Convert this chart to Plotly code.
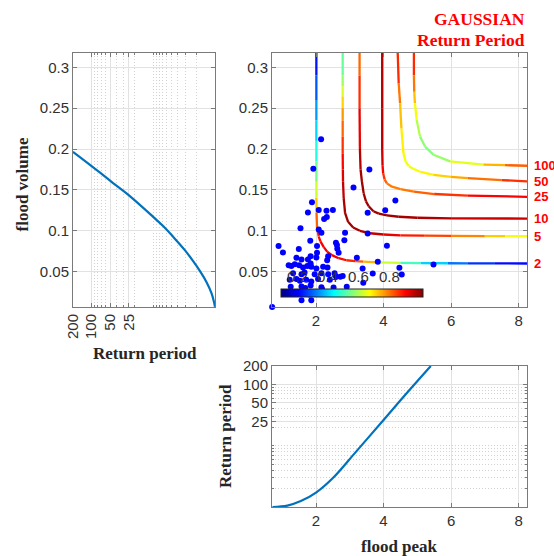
import plotly.graph_objects as go
from plotly.colors import sample_colorscale
import math

# ---------------- data ----------------
# left panel: marginal return period of flood volume
vol_T = [200, 73.7, 44.9, 25.9, 10.06, 6.93, 4.77, 3.08, 2.26, 1.76, 1.37, 1.136, 1.04, 1.0]
vol_v = [0.1967, 0.1715, 0.1584, 0.1445, 0.1171, 0.1058, 0.0927, 0.0764, 0.0629, 0.0510, 0.0372, 0.0234, 0.0131, 0.0070]

# bottom panel: marginal return period of flood peak
peak_x = [0.71, 1.15, 1.55, 2.0, 2.53, 3.13, 4.02, 4.71, 5.40]
peak_T = [1.0, 1.055, 1.25, 1.72, 3.09, 7.36, 27.1, 74.5, 200.0]

# joint return period isolines (x = peak, y = volume, c = colour value)
levels = [2, 5, 10, 25, 50, 100]

c2_x = [2.01, 2.01, 2.01, 2.01, 2.01, 2.01, 2.01, 2.01, 2.015, 2.03, 2.08, 2.13, 2.23, 2.33, 2.47, 2.67, 2.9, 3.16, 3.4, 3.8, 4.5, 5.1, 5.9, 6.5, 7.3, 8.25]
c2_y = [0.3175, 0.29, 0.26, 0.235, 0.21, 0.185, 0.16, 0.14, 0.122, 0.104, 0.093, 0.087, 0.080, 0.0745, 0.0703, 0.0665, 0.064, 0.0629, 0.0622, 0.0615, 0.0608, 0.0605, 0.0603, 0.0602, 0.0601, 0.060]
c2_c = [0.206, 0.25, 0.326, 0.373, 0.437, 0.511, 0.585, 0.678, 0.78, 0.854, 0.89, 0.909, 0.918, 0.918, 0.918, 0.909, 0.89, 0.854, 0.789, 0.696, 0.558, 0.447, 0.354, 0.28, 0.234, 0.206]

c5_x = [2.79, 2.79, 2.79, 2.79, 2.79, 2.79, 2.79, 2.79, 2.795, 2.80, 2.82, 2.86, 2.95, 3.1, 3.3, 3.6, 4.0, 4.5, 5.2, 6.0, 7.0, 7.6, 8.25]
c5_y = [0.3175, 0.29, 0.277, 0.2645, 0.25, 0.235, 0.215, 0.195, 0.175, 0.16, 0.14, 0.122, 0.111, 0.104, 0.100, 0.097, 0.0955, 0.0945, 0.094, 0.0938, 0.0936, 0.0935, 0.0935]
c5_c = [0.511, 0.558, 0.604, 0.678, 0.743, 0.789, 0.835, 0.881, 0.918, 0.946, 0.974, 0.992, 0.992, 0.992, 0.983, 0.974, 0.946, 0.90, 0.863, 0.826, 0.743, 0.696, 0.632]

c10_x = [3.29, 3.29, 3.29, 3.30, 3.32, 3.36, 3.41, 3.48, 3.56, 3.7, 3.86, 4.1, 4.45, 5.0, 6.0, 8.25]
c10_y = [0.3175, 0.29, 0.25, 0.2, 0.175, 0.16, 0.146, 0.136, 0.13, 0.124, 0.121, 0.119, 0.1172, 0.116, 0.1153, 0.115]
c10_c = [0.789, 0.835, 0.89, 0.955, 0.983, 0.992, 0.992, 0.992, 0.992, 0.992, 0.992, 0.992, 0.992, 0.983, 0.974, 0.928]

c25_x = [3.96, 3.96, 3.96, 3.97, 3.99, 4.03, 4.1, 4.25, 4.5, 4.9, 5.5, 6.5, 8.25]
c25_y = [0.3175, 0.25, 0.2, 0.18, 0.17, 0.163, 0.158, 0.154, 0.151, 0.148, 0.145, 0.143, 0.1416]
c25_c = [0.974, 0.974, 0.964, 0.928, 0.881, 0.835, 0.80, 0.789, 0.789, 0.80, 0.835, 0.881, 0.928]

c50_x = [4.42, 4.45, 4.49, 4.53, 4.59, 4.65, 4.75, 4.88, 5.1, 5.48, 6.0, 6.5, 7.5, 8.25]
c50_y = [0.3175, 0.28, 0.256, 0.225, 0.195, 0.185, 0.179, 0.176, 0.172, 0.1685, 0.166, 0.1645, 0.162, 0.1605]
c50_c = [0.90, 0.835, 0.76, 0.70, 0.669, 0.66, 0.66, 0.66, 0.669, 0.696, 0.733, 0.77, 0.835, 0.89]

c100_x = [4.90, 4.90, 4.91, 4.93, 4.98, 5.08, 5.23, 5.48, 5.97, 6.96, 7.6, 8.25]
c100_y = [0.3175, 0.29, 0.27, 0.256, 0.236, 0.2155, 0.203, 0.193, 0.185, 0.181, 0.1803, 0.1796]
c100_c = [0.90, 0.835, 0.76, 0.70, 0.63, 0.58, 0.56, 0.56, 0.60, 0.70, 0.78, 0.854]

# observed (peak, volume) pairs
obs_x = [2.15, 1.92, 3.58, 3.11, 4.35, 1.88, 4.05, 3.53, 1.76, 2.08, 2.31, 2.24, 2.50, 2.32,
         1.54, 2.08, 2.16, 2.86, 3.53, 2.84, 1.83, 4.10, 0.89, 2.03, 1.02, 1.49, 2.03, 2.36,
         1.84, 2.62, 2.59, 2.67, 2.63, 1.42, 1.57, 2.01, 2.33, 3.21, 3.83, 5.48, 4.47, 4.54,
         3.68, 3.40, 2.91, 2.79, 2.59, 2.72, 2.52, 2.18, 3.38, 0.70, 1.76, 1.84,
         1.19, 1.27, 1.37, 1.50, 1.615, 1.74, 1.86, 2.01, 2.21, 2.34,
         1.32, 1.57, 1.66, 1.96, 2.16, 2.36, 2.55,
         1.22, 1.42, 1.52, 1.71, 1.86, 2.06, 2.41,
         1.25, 1.57, 1.68, 1.84, 2.16,
         1.50, 1.80,
         1.57, 1.86]
obs_y = [0.212, 0.176, 0.175, 0.153, 0.137, 0.135, 0.125, 0.122, 0.1225, 0.1255, 0.1245, 0.1143, 0.1255, 0.117,
         0.103, 0.1017, 0.0976, 0.0976, 0.0968, 0.0886, 0.0878, 0.0817, 0.0813, 0.0813, 0.0735, 0.0776, 0.0731, 0.069,
         0.069, 0.0825, 0.0854, 0.0731, 0.078, 0.067, 0.065, 0.0674, 0.064, 0.067, 0.0621, 0.0588, 0.0547, 0.0466,
         0.0478, 0.0364, 0.0315, 0.0446, 0.044, 0.0437, 0.0307, 0.0286, 0.054, 0.0068, 0.065, 0.060,
         0.058, 0.057, 0.059, 0.058, 0.055, 0.057, 0.056, 0.054, 0.056, 0.055,
         0.048, 0.047, 0.049, 0.047, 0.048, 0.047, 0.048,
         0.040, 0.041, 0.039, 0.040, 0.038, 0.041, 0.040,
         0.0315, 0.032, 0.030, 0.033, 0.031,
         0.024, 0.022,
         0.0152, 0.0152]

cbar_ticks = [0.2, 0.4, 0.6, 0.8]
cmin, cmax = 0.095, 1.02
T_ticks = [25, 50, 100, 200]
T_minor = [2, 3, 4, 5, 6, 7, 8, 9, 10, 20, 30, 40, 60, 70, 80, 90]
v_ticks = [0.05, 0.1, 0.15, 0.2, 0.25, 0.3]
p_ticks = [2, 4, 6, 8]
x_range = [0.696, 8.25]
v_range = [0.0068, 0.3175]

# ---------------- styling ----------------
W, H = 554, 556
jet = [[0, 'rgb(0,0,128)'], [0.125, 'rgb(0,0,255)'], [0.375, 'rgb(0,255,255)'],
       [0.625, 'rgb(255,255,0)'], [0.875, 'rgb(255,0,0)'], [1, 'rgb(128,0,0)']]
SANS = 'Liberation Sans, Arial, sans-serif'
SERIF = 'Liberation Serif, Times New Roman, serif'
TICKC = '#303030'
FRAME = '#7a7a7a'
GRID = '#e2e2e2'
MINOR = '#d2d2d2'
BLUE = '#0072BD'


def px_x(p):
    return p / W


def px_y(p):
    return 1 - p / H


fig = go.Figure()

# left panel curve
fig.add_trace(go.Scatter(x=vol_T, y=vol_v, mode='lines', line=dict(color=BLUE, width=2.2, shape='spline'),
                         xaxis='x', yaxis='y', hoverinfo='skip', showlegend=False))
# bottom panel curve
fig.add_trace(go.Scatter(x=peak_x, y=peak_T, mode='lines', line=dict(color=BLUE, width=2.2, shape='spline'),
                         xaxis='x3', yaxis='y3', hoverinfo='skip', showlegend=False))

# isolines with varying colour (segment by segment)
curves = [(c2_x, c2_y, c2_c), (c5_x, c5_y, c5_c), (c10_x, c10_y, c10_c),
          (c25_x, c25_y, c25_c), (c50_x, c50_y, c50_c), (c100_x, c100_y, c100_c)]
for cx, cy, cc in curves:
    for i in range(len(cx) - 1):
        val = 0.5 * (cc[i] + cc[i + 1])
        col = sample_colorscale(jet, [(val - cmin) / (cmax - cmin)])[0]
        fig.add_trace(go.Scatter(x=[cx[i], cx[i + 1]], y=[cy[i], cy[i + 1]], mode='lines',
                                 line=dict(color=col, width=2.3), xaxis='x2', yaxis='y2',
                                 hoverinfo='skip', showlegend=False))

# observations
fig.add_trace(go.Scatter(x=obs_x, y=obs_y, mode='markers',
                         marker=dict(color='#0000FF', size=6, line=dict(width=0)),
                         xaxis='x2', yaxis='y2', hoverinfo='skip', showlegend=False, cliponaxis=False))

# colourbar
cb_left, cb_right = 281, 423
fig.add_trace(go.Scatter(x=[None], y=[None], mode='markers', xaxis='x2', yaxis='y2', showlegend=False,
                         marker=dict(color=[cmin], colorscale=jet, cmin=cmin, cmax=cmax, showscale=True,
                                     colorbar=dict(orientation='h', lenmode='pixels', len=cb_right - cb_left,
                                                   thicknessmode='pixels', thickness=8,
                                                   x=px_x((cb_left + cb_right) / 2), xanchor='center',
                                                   y=px_y(298), yanchor='bottom', xpad=0, ypad=0,
                                                   outlinewidth=1, outlinecolor='#222222',
                                                   showticklabels=False, ticks=''))))

annotations = []
for t in cbar_ticks:
    xp = cb_left + (t - cmin) / (cmax - cmin) * (cb_right - cb_left)
    annotations.append(dict(text=str(t), xref='paper', yref='paper', x=px_x(xp), y=px_y(276),
                            xanchor='center', yanchor='middle', showarrow=False,
                            font=dict(family=SANS, size=15, color=TICKC)))

# isoline labels
for lev, (cx, cy, cc) in zip(levels, curves):
    annotations.append(dict(text=str(lev), xref='x2', yref='y2', x=cx[-1], y=cy[-1], xanchor='left',
                            yanchor='middle', xshift=5, showarrow=False,
                            font=dict(family=SANS, size=13, color='#ff0000', weight='bold')))

# titles
annotations.append(dict(text='GAUSSIAN', xref='paper', yref='paper', x=px_x(527), y=px_y(18.5),
                        xanchor='right', yanchor='middle', showarrow=False,
                        font=dict(family=SERIF, size=17.5, color='#ff0000', weight='bold')))
annotations.append(dict(text='Return Period', xref='paper', yref='paper', x=px_x(527), y=px_y(39.5),
                        xanchor='right', yanchor='middle', showarrow=False,
                        font=dict(family=SERIF, size=17.5, color='#ff0000', weight='bold')))

ttl = dict(family=SERIF, size=17, color='#262626', weight='bold')
annotations.append(dict(text='flood volume', xref='paper', yref='paper', x=px_x(22.5), y=px_y(185),
                        textangle=-90, xanchor='center', yanchor='middle', showarrow=False, font=ttl))
annotations.append(dict(text='Return period', xref='paper', yref='paper', x=px_x(145), y=px_y(353),
                        xanchor='center', yanchor='middle', showarrow=False, font=ttl))
annotations.append(dict(text='Return period', xref='paper', yref='paper', x=px_x(225), y=px_y(436),
                        textangle=-90, xanchor='center', yanchor='middle', showarrow=False, font=ttl))
annotations.append(dict(text='flood peak', xref='paper', yref='paper', x=px_x(399), y=px_y(546.5),
                        xanchor='center', yanchor='middle', showarrow=False, font=ttl))

tickfont = dict(family=SANS, size=15, color=TICKC)
common = dict(showline=True, linecolor=FRAME, linewidth=1, mirror='ticks', ticks='inside', ticklen=4,
              tickcolor=FRAME, showgrid=True, gridcolor=GRID, gridwidth=1, zeroline=False,
              tickfont=tickfont, automargin=False)
minor = dict(tickvals=T_minor, showgrid=True, gridcolor=MINOR, griddash='1px,2px', gridwidth=1,
             ticks='inside', ticklen=2, tickcolor=FRAME)

dom_left_x = [px_x(73), px_x(215)]
dom_main_x = [px_x(272), px_x(527)]
dom_top_y = [px_y(307), px_y(53)]
dom_bot_y = [px_y(507), px_y(366)]

fig.update_layout(
    template='none',
    width=W, height=H, margin=dict(l=0, r=0, t=0, b=0, pad=0, autoexpand=False),
    paper_bgcolor='white', plot_bgcolor='white', showlegend=False,
    xaxis=dict(domain=dom_left_x, anchor='y', type='log', range=[math.log10(200), 0],
               tickvals=T_ticks, ticktext=[str(t) for t in T_ticks], tickangle=-90, minor=minor, **common),
    yaxis=dict(domain=dom_top_y, anchor='x', range=v_range, tickvals=v_ticks,
               ticktext=[f'{t:g}' for t in v_ticks], **common),
    xaxis2=dict(domain=dom_main_x, anchor='y2', range=x_range, tickvals=p_ticks,
                ticktext=[str(t) for t in p_ticks], **common),
    yaxis2=dict(domain=dom_top_y, anchor='x2', range=v_range, tickvals=v_ticks,
                ticktext=[f'{t:g}' for t in v_ticks], **common),
    xaxis3=dict(domain=dom_main_x, anchor='y3', range=x_range, tickvals=p_ticks,
                ticktext=[str(t) for t in p_ticks], **common),
    yaxis3=dict(domain=dom_bot_y, anchor='x3', type='log', range=[0, math.log10(200)],
                tickvals=T_ticks, ticktext=[str(t) for t in T_ticks], minor=minor, **common),
    annotations=annotations,
)

fig.write_html('out.html', post_script="document.body.style.margin='0';")
